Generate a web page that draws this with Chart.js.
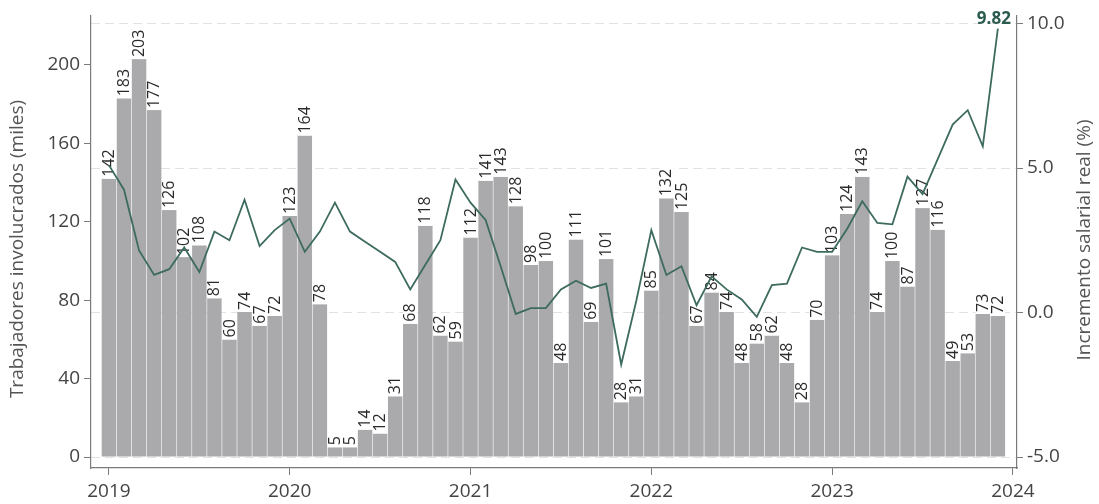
<!DOCTYPE html>
<html>
<head>
<meta charset="utf-8">
<script src="https://cdn.jsdelivr.net/npm/chart.js@4/dist/chart.umd.min.js"></script>
<style>
  html, body { margin: 0; padding: 0; background: #fff; }
  #wrap { width: 1099px; height: 504px; position: relative; }
</style>
</head>
<body>
<div id="wrap"><canvas id="c"></canvas></div>
<script>
// Trabajadores involucrados (miles), mensual, enero 2019 - diciembre 2023
const trabajadores = [
  142, 183, 203, 177, 126, 102, 108, 81, 60, 74, 67, 72,
  123, 164, 78, 5, 5, 14, 12, 31, 68, 118, 62, 59,
  112, 141, 143, 128, 98, 100, 48, 111, 69, 101, 28, 31,
  85, 132, 125, 67, 84, 74, 48, 58, 62, 48, 28, 70,
  103, 124, 143, 74, 100, 87, 127, 116, 49, 53, 73, 72
];

// Incremento salarial real (%), mismo periodo
const incremento = [
  5.1, 4.25, 2.15, 1.3, 1.5, 2.25, 1.4, 2.8, 2.5, 3.9, 2.3, 2.85,
  3.25, 2.1, 2.8, 3.8, 2.8, 2.45, 2.1, 1.75, 0.8, 1.65, 2.5, 4.6,
  3.8, 3.2, 1.6, -0.05, 0.15, 0.15, 0.8, 1.1, 0.85, 1.0, -1.8, 0.4,
  2.85, 1.3, 1.6, 0.25, 1.25, 0.8, 0.45, -0.15, 0.95, 1.0, 2.25, 2.1,
  2.1, 2.9, 3.85, 3.1, 3.05, 4.7, 4.1, 5.3, 6.5, 7.0, 5.75, 9.82
];

const years = ['2019', '2020', '2021', '2022', '2023', '2024'];
const leftTicks = [0, 40, 80, 120, 160, 200];
const rightTicks = [-5, 0, 5, 10];

const FONT = '"Open Sans", "Noto Sans", sans-serif';
const BAR_COLOR = '#aaaaac';
const LINE_COLOR = '#3d6b5f';
const AXIS_COLOR = '#7a7a7a';
const TEXT_COLOR = '#444444';

const barPoints = trabajadores.map((v, i) => ({ x: i, y: v }));
const linePoints = incremento.map((v, i) => ({ x: i, y: v }));

// Rotated value labels on white boxes above each bar
const barLabels = {
  id: 'barLabels',
  afterDatasetDraw(chart, args) {
    if (args.index !== 0) return;
    const ctx = chart.ctx;
    const meta = chart.getDatasetMeta(0);
    ctx.save();
    ctx.font = '16px ' + FONT;
    meta.data.forEach((bar, i) => {
      const txt = String(trabajadores[i]);
      const w = ctx.measureText(txt).width;
      const top = bar.y;
      ctx.fillStyle = '#ffffff';
      ctx.fillRect(bar.x - 7, top - w - 4, 14, w + 4);
      ctx.save();
      ctx.translate(bar.x + 0.5, top - 2);
      ctx.rotate(-Math.PI / 2);
      ctx.fillStyle = '#2a2a2a';
      ctx.textAlign = 'left';
      ctx.textBaseline = 'middle';
      ctx.fillText(txt, 0, 0);
      ctx.restore();
    });
    ctx.restore();
  }
};

// Axis titles (both read bottom-to-top) and the final-value label
const extras = {
  id: 'extras',
  afterDraw(chart) {
    const ctx = chart.ctx;
    ctx.save();
    ctx.fillStyle = '#555555';
    ctx.font = '19px ' + FONT;
    ctx.textAlign = 'center';
    ctx.textBaseline = 'middle';
    ctx.save();
    ctx.translate(18, 249);
    ctx.rotate(-Math.PI / 2);
    ctx.fillText('Trabajadores involucrados (miles)', 0, 0);
    ctx.restore();
    ctx.save();
    ctx.translate(1085, 240);
    ctx.rotate(-Math.PI / 2);
    ctx.fillText('Incremento salarial real (%)', 0, 0);
    ctx.restore();

    const meta = chart.getDatasetMeta(1);
    const last = meta.data[meta.data.length - 1];
    ctx.font = 'bold 17px ' + FONT;
    ctx.fillStyle = '#2b5a4f';
    ctx.textAlign = 'center';
    ctx.textBaseline = 'bottom';
    ctx.fillText(incremento[incremento.length - 1].toFixed(2), last.x - 4, last.y - 1);
    ctx.restore();
  }
};

new Chart(document.getElementById('c'), {
  data: {
    datasets: [
      {
        type: 'bar',
        data: barPoints,
        yAxisID: 'y',
        backgroundColor: BAR_COLOR,
        borderWidth: 0,
        barPercentage: 0.96,
        categoryPercentage: 1,
        order: 2
      },
      {
        type: 'line',
        data: linePoints,
        yAxisID: 'y1',
        borderColor: LINE_COLOR,
        borderWidth: 1.8,
        pointRadius: 0,
        tension: 0,
        order: 1
      }
    ]
  },
  options: {
    responsive: true,
    maintainAspectRatio: false,
    animation: false,
    layout: { padding: { top: 12, left: 0, right: 0, bottom: 0 } },
    plugins: { legend: { display: false }, tooltip: { enabled: false } },
    scales: {
      x: {
        type: 'linear',
        min: -1.19,
        max: 60.27,
        offset: false,
        afterBuildTicks(scale) { scale.ticks = years.map((y, i) => ({ value: i * 12 })); },
        afterFit(scale) { scale.height = 36; },
        ticks: {
          callback: (v) => years[Math.round(v / 12)],
          font: { family: FONT, size: 19 },
          color: TEXT_COLOR,
          padding: 5,
          maxRotation: 0,
          autoSkip: false
        },
        grid: { offset: false, drawOnChartArea: false, tickLength: 7, tickColor: AXIS_COLOR },
        border: { color: AXIS_COLOR, width: 1.2 }
      },
      y: {
        position: 'left',
        min: -5.57,
        max: 225.3,
        afterBuildTicks(scale) { scale.ticks = leftTicks.map(v => ({ value: v })); },
        afterFit(scale) { scale.width = 91; },
        ticks: {
          font: { family: FONT, size: 19 },
          color: TEXT_COLOR,
          padding: 4
        },
        grid: { drawOnChartArea: false, tickLength: 7, tickColor: AXIS_COLOR },
        border: { color: AXIS_COLOR, width: 1.2 }
      },
      y1: {
        position: 'right',
        min: -5.38,
        max: 10.28,
        afterBuildTicks(scale) { scale.ticks = rightTicks.map(v => ({ value: v })); },
        afterFit(scale) { scale.width = 82; },
        ticks: {
          callback: (v) => v.toFixed(1),
          font: { family: FONT, size: 19 },
          color: TEXT_COLOR,
          padding: 4
        },
        grid: { drawOnChartArea: true, color: '#e2e2e2', lineWidth: 1, tickLength: 6, tickColor: AXIS_COLOR },
        border: { color: AXIS_COLOR, width: 1.2, dash: [9, 5] }
      }
    }
  },
  plugins: [barLabels, extras]
});
</script>
</body>
</html>
